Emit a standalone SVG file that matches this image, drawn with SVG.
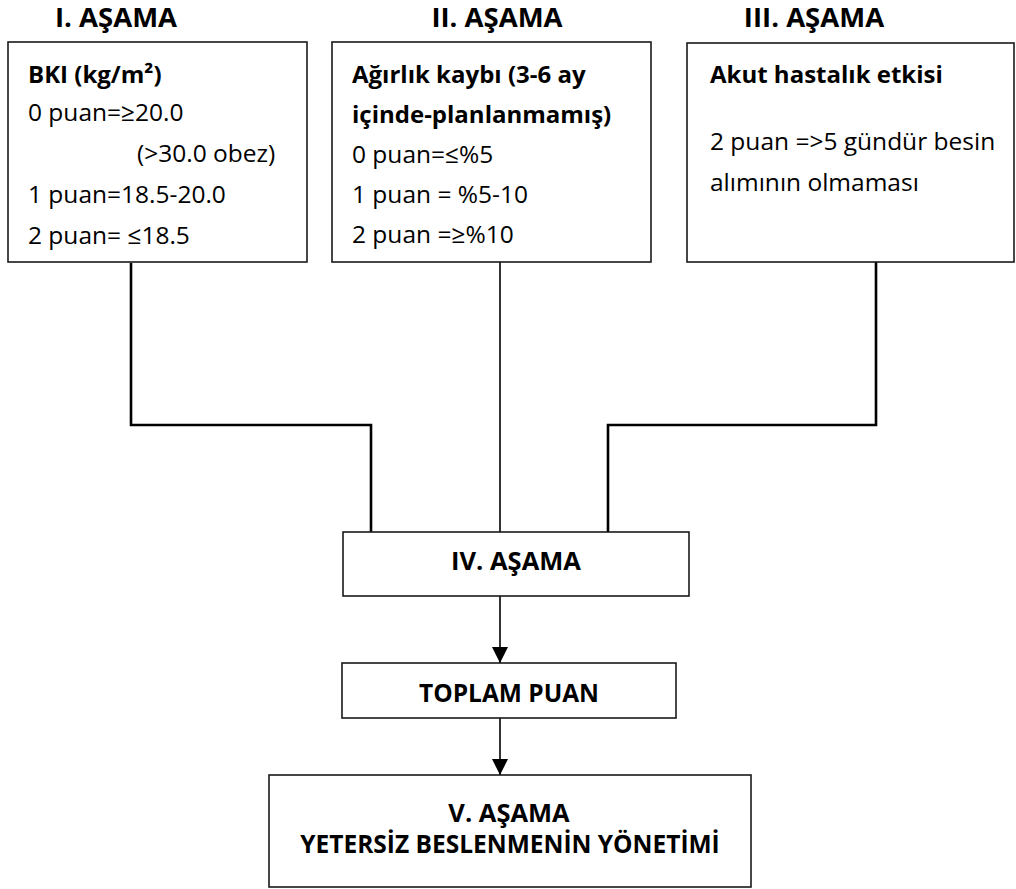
<svg xmlns="http://www.w3.org/2000/svg" width="1016" height="889" viewBox="0 0 1016 889">
  <defs>
    <style>
      .box { fill: #ffffff; stroke: #1a1a1a; stroke-width: 1.6; }
      .title { font-family: "Open Sans", "Liberation Sans", sans-serif; font-weight: 700; font-size: 27.5px; fill: #000; text-anchor: middle; }
      .head { font-family: "Open Sans", "Liberation Sans", sans-serif; font-weight: 700; font-size: 24px; fill: #000; }
      .body { font-family: "Open Sans", "Liberation Sans", sans-serif; font-weight: 400; font-size: 24.5px; fill: #000; }
      .lbl { font-family: "Open Sans", "Liberation Sans", sans-serif; font-weight: 700; font-size: 24.5px; fill: #000; text-anchor: middle; }
      .stage { font-size: 25.5px; }
      .wire { fill: none; stroke: #000; stroke-width: 2.6; }
      .wire-thin { fill: none; stroke: #000; stroke-width: 1.6; }
    </style>
    <marker id="arrow" viewBox="0 0 16 16" refX="16" refY="8" markerWidth="16" markerHeight="16" markerUnits="userSpaceOnUse" orient="auto">
      <path d="M0,0 L16,8 L0,16 Z" fill="#000"/>
    </marker>
  </defs>

  <rect width="1016" height="889" fill="#ffffff"/>

  <!-- stage headings -->
  <g id="headings">
    <text class="title" x="116" y="27">I. AŞAMA</text>
    <text class="title" x="497" y="27">II. AŞAMA</text>
    <text class="title" x="814" y="27">III. AŞAMA</text>
  </g>

  <!-- connectors -->
  <g id="connectors">
    <path class="wire" d="M131,263 V425 H371 V532"/>
    <path class="wire-thin" d="M500,262 V532"/>
    <path class="wire" d="M876,262 V425 H608 V532"/>
    <path class="wire-thin" d="M500,596 V663" marker-end="url(#arrow)"/>
    <path class="wire-thin" d="M500,718 V775" marker-end="url(#arrow)"/>
  </g>

  <!-- stage I: BMI -->
  <g id="stage1">
    <rect class="box" x="8" y="42" width="299" height="220"/>
    <text class="head" x="28" y="83">BKI (kg/m²)</text>
    <text class="body" x="28" y="121">0 puan=≥20.0</text>
    <text class="body" x="137" y="162">(&gt;30.0 obez)</text>
    <text class="body" x="28" y="203">1 puan=18.5-20.0</text>
    <text class="body" x="28" y="244">2 puan= ≤18.5</text>
  </g>

  <!-- stage II: weight loss -->
  <g id="stage2">
    <rect class="box" x="332" y="42" width="319" height="220"/>
    <text class="head" x="352" y="83">Ağırlık kaybı (3-6 ay</text>
    <text class="head" x="352" y="123">içinde-planlanmamış)</text>
    <text class="body" x="352" y="163">0 puan=≤%5</text>
    <text class="body" x="352" y="203">1 puan = %5-10</text>
    <text class="body" x="352" y="243">2 puan =≥%10</text>
  </g>

  <!-- stage III: acute disease effect -->
  <g id="stage3">
    <rect class="box" x="687" y="43" width="327" height="219"/>
    <text class="head" x="710" y="83">Akut hastalık etkisi</text>
    <text class="body" x="710" y="150">2 puan =&gt;5 gündür besin</text>
    <text class="body" x="710" y="191">alımının olmaması</text>
  </g>

  <!-- stage IV -->
  <g id="stage4">
    <rect class="box" x="343" y="532" width="346" height="64"/>
    <text class="lbl stage" x="516" y="570">IV. AŞAMA</text>
  </g>

  <!-- total score -->
  <g id="total">
    <rect class="box" x="342" y="663" width="334" height="55"/>
    <text class="lbl" x="509" y="702">TOPLAM PUAN</text>
  </g>

  <!-- stage V -->
  <g id="stage5">
    <rect class="box" x="269" y="775" width="482" height="112"/>
    <text class="lbl stage" x="509" y="822">V. AŞAMA</text>
    <text class="lbl" x="510" y="853">YETERSİZ BESLENMENİN YÖNETİMİ</text>
  </g>
</svg>
